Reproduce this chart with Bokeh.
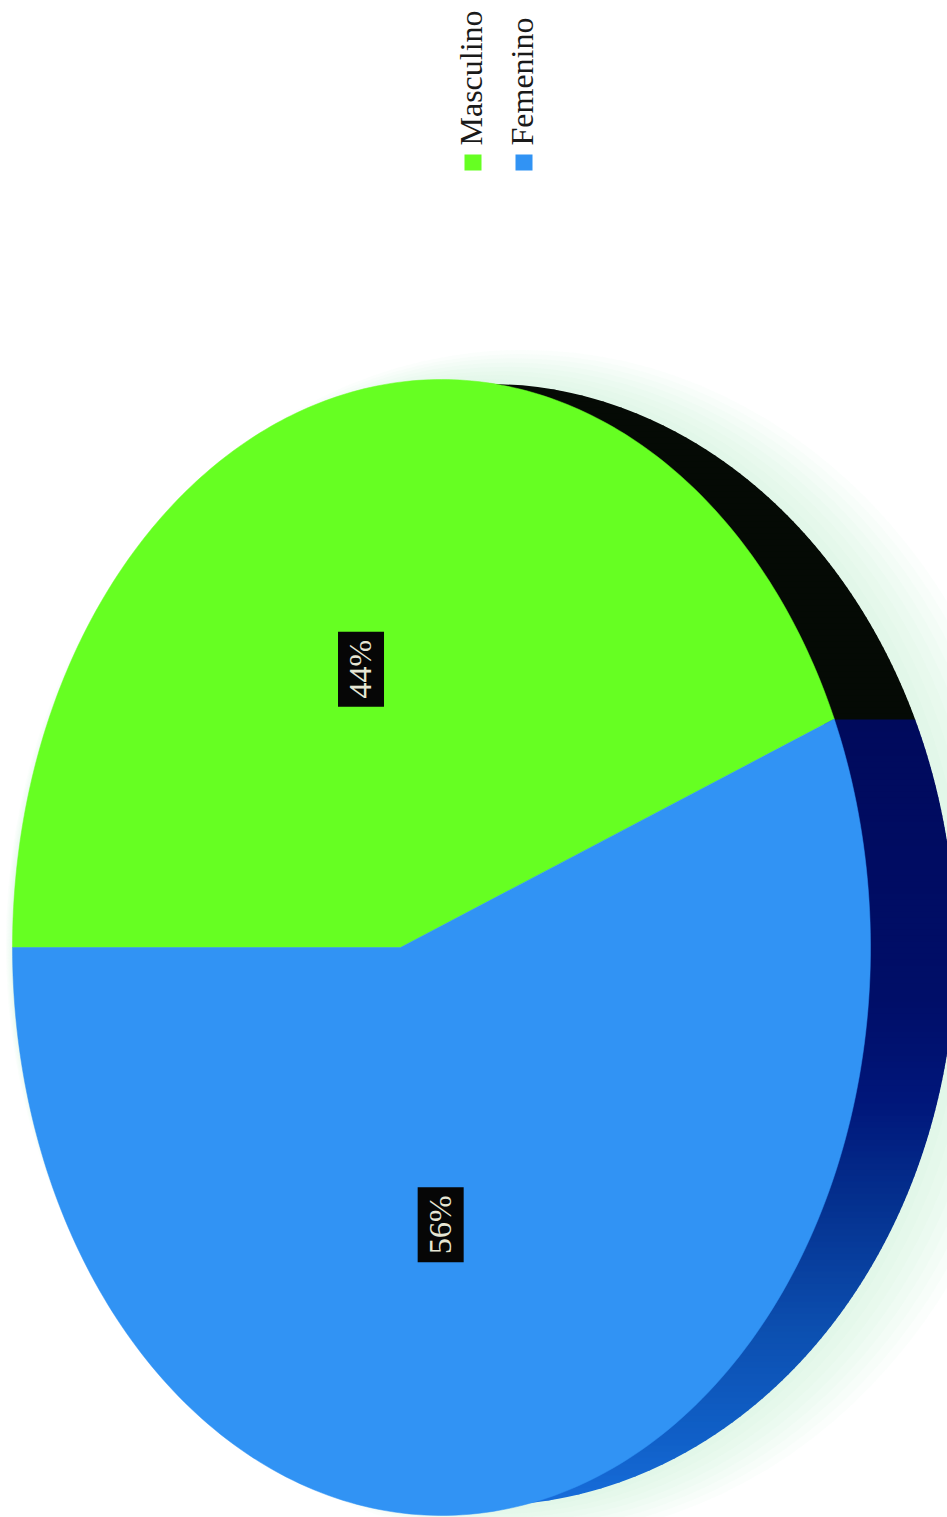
import numpy as np
from bokeh.plotting import figure
from bokeh.core.properties import value
from bokeh.embed import file_html
from bokeh.resources import INLINE

# ---- data ----
categories = ["Masculino", "Femenino"]
shares = [44, 56]
share_labels = ["44%", "56%"]

# ---- styles / layout ----
top_colors = ["#66ff22", "#3193f4"]
FONT = value("Liberation Serif")
W, H = 947, 1517
CX, CY, RX, RY = 441, 947, 429, 568      # rim of the pie face
K = -0.0956                              # perspective: hub sits left of the rim centre
OX, OY, ORX, ORY = 485, 948, 470, 565    # outer rim of the side wall
ORY_LOW = 557                            # the wall's lower half is a little flatter
side_stops_y = [718, 1000, 1100, 1200, 1330, 1440, 1510]
side_stops_c = [(0, 10, 92), (0, 14, 104), (0, 22, 122), (4, 48, 142), (12, 79, 176), (16, 96, 200), (24, 110, 220)]
side_dark = "#050a05"


def warp(u, v):
    d = 1 + K * u
    return CX + RX * (u + K) / d, CY + RY * v * np.sqrt(1 - K * K) / d


p = figure(width=W, height=H, output_backend="svg", toolbar_location=None,
           x_range=(0, W), y_range=(H, 0), min_border=0,
           background_fill_color="white", border_fill_color="white")
p.axis.visible = False
p.grid.visible = False
p.outline_line_color = None

# slice angles from the values (screen-clockwise, starting at the left of the pie)
angles = 180 + np.cumsum([0] + [s / sum(shares) * 360 for s in shares])

# soft halo round the disc
for e in (48, 42, 36, 30, 24, 18, 12, 6):
    p.ellipse(x=[OX + e * 0.8], y=[OY - 4], width=[2 * (ORX + e)], height=[2 * (ORY - 4 + e * 0.7)],
              fill_color="#b8ecd0", fill_alpha=0.06, line_color=None)

# side wall, drawn as bands behind the face
_, split_y = warp(np.cos(np.radians(angles[1])), np.sin(np.radians(angles[1])))
bands = np.arange(OY - ORY, OY + ORY_LOW, 6.0)
xs, ys, cols = [], [], []
for b in bands:
    yy = np.linspace(b, min(b + 7, OY + ORY_LOW), 5)
    ry = np.where(yy < OY, ORY, ORY_LOW)
    edge = OX + ORX * np.sqrt(np.clip(1 - ((yy - OY) / ry) ** 2, 0, 1))
    inner = CX + RX * np.sqrt(np.clip(1 - ((yy - CY) / RY) ** 2, 0, 1)) - 12
    inner = np.maximum(inner, CX)
    xs.append(list(inner) + list(edge[::-1]))
    ys.append(list(yy) + list(yy[::-1]))
    mid = b + 3
    if mid < split_y:
        cols.append(side_dark)
    else:
        rgb = [np.interp(mid, side_stops_y, [c[i] for c in side_stops_c]) for i in range(3)]
        cols.append("#%02x%02x%02x" % tuple(int(round(c)) for c in rgb))
p.patches(xs, ys, fill_color=cols, line_color=None)

# pie face
for i, cat in enumerate(categories):
    a = np.radians(np.linspace(angles[i], angles[i + 1], 200))
    x, y = warp(np.cos(a), np.sin(a))
    hx, hy = warp(0.0, 0.0)
    p.patch([hx] + list(x), [hy] + list(y), fill_color=top_colors[i], line_color=top_colors[i], line_width=0.5)

# value labels at half radius on each slice's mid angle
for i, lab in enumerate(share_labels):
    m = np.radians((angles[i] + angles[i + 1]) / 2)
    lx, ly = warp(0.5 * np.cos(m), 0.5 * np.sin(m))
    ly -= 3
    p.rect(x=[lx], y=[ly], width=[46], height=[75], fill_color="#060606", line_color=None)
    p.text(x=[lx - 1], y=[ly], text=[lab], angle=np.pi / 2, text_font=FONT, text_font_size="32px",
           text_color="#e6e6d4", text_align="center", text_baseline="alphabetic")

# legend
legend_x = [472.5, 523.5]
for i, cat in enumerate(categories):
    p.rect(x=[legend_x[i]], y=[162], width=[17], height=[16], fill_color=top_colors[i], line_color=None)
    p.text(x=[legend_x[i] - 2.5], y=[145], text=[cat], angle=np.pi / 2, text_font=FONT, text_font_size="32px",
           text_color="#1a1a1a", text_align="left", text_baseline="alphabetic")

open("out.html", "w").write(file_html(p, INLINE))
